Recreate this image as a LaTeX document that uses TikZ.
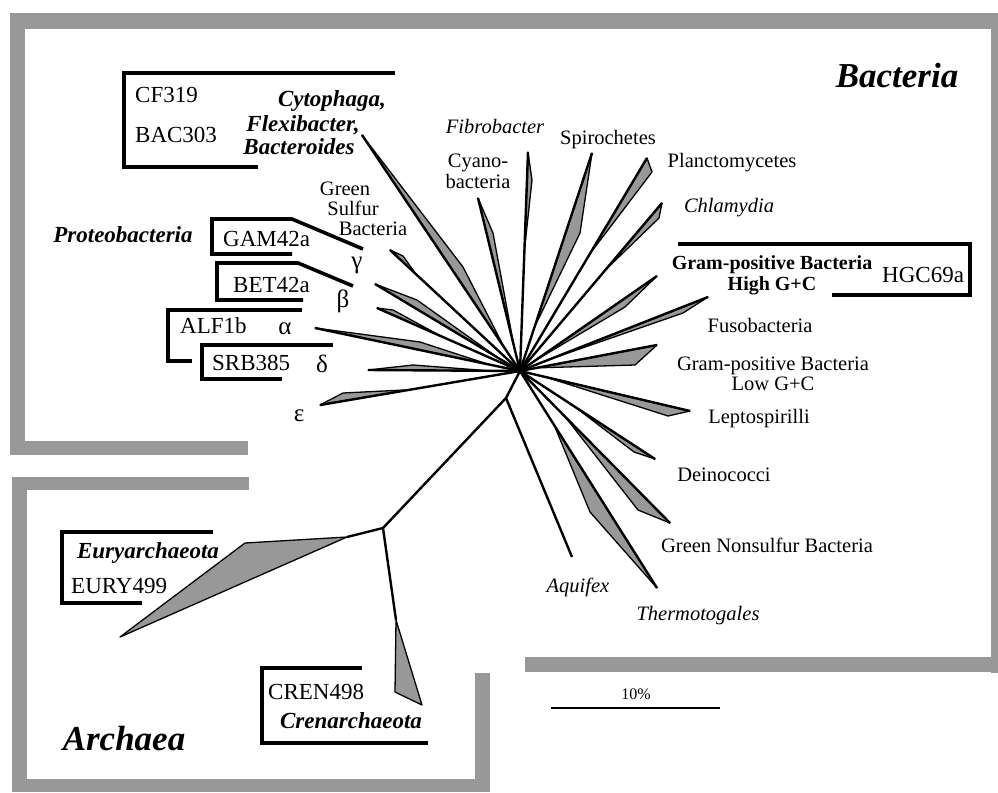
\documentclass[tikz,border=0pt]{standalone}
\usepackage{fontspec}
\setmainfont{Liberation Serif}
\usepackage{tikz}
\usetikzlibrary{calc}
\tikzstyle{tree} = [x = 1pt, y = -1pt]
\definecolor{stippleGray}{RGB}{152,152,152}
\tikzstyle{bandStyle} = [fill=stippleGray]
\tikzstyle{wedgeStyle} = [fill=stippleGray, draw=black, line width=1.3pt, line join=round]
\tikzstyle{branchLine} = [line width=2.4pt]
\tikzstyle{bracketLine} = [line width=3.6pt, line join=miter]
\tikzstyle{taxonText} = [anchor=base, inner sep=0pt, align=center, font=\fontsize{20.5}{21}\selectfont]
\tikzstyle{probeText} = [anchor=base west, inner sep=0pt, font=\fontsize{23}{24}\selectfont]
\tikzstyle{groupText} = [anchor=base, inner sep=0pt, font=\fontsize{23}{24}\selectfont\bfseries\itshape]
\tikzstyle{domainText} = [anchor=base, inner sep=0pt, font=\fontsize{35}{36}\selectfont\bfseries\itshape]
\tikzstyle{greekText} = [anchor=base, inner sep=0pt, font=\fontsize{25}{26}\selectfont]
\newcommand{\band}[4]{\fill [bandStyle] (#1,#2) rectangle (#3,#4);}
\newcommand{\plainBranch}[3]{\coordinate (#2) at #3; \draw [branchLine] (#1) -- (#2);}
\newcommand{\wedgeBranch}[5]{
  \coordinate (#2) at #3;
  \filldraw [wedgeStyle] ($(#1)!#5!(#2)$) -- #4 -- (#2) -- cycle;
  \draw [branchLine] (#1) -- (#2);
}
\begin{document}
\begin{tikzpicture}[tree]
        \useasboundingbox (0,0) rectangle (998,792);
        \band{10}{13}{998}{29}
        \band{10}{13}{25}{455}
        \band{10}{441}{248}{455}
        \band{991}{13}{998}{673}
        \band{525}{657}{998}{672}
        \band{12}{477}{249}{490}
        \band{12}{477}{27}{792}
        \band{12}{779}{490}{792}
        \band{475}{673}{490}{792}

        \coordinate (hub) at (520,371);
        \coordinate (archaeaJoin) at (506,398);
        \coordinate (archaeaNode) at (383,528);
        \draw [branchLine] (hub) -- (archaeaJoin) -- (archaeaNode);
        \wedgeBranch{hub}{epsilonTip}{(320,405)}{(343,393)}{0.55}
        \wedgeBranch{hub}{deltaTip}{(368,370)}{(413,365)}{0.2}
        \wedgeBranch{hub}{alphaTip}{(315,328)}{(420,342)}{0.15}
        \wedgeBranch{hub}{betaLowTip}{(377,308)}{(393,310)}{0.55}
        \wedgeBranch{hub}{betaTip}{(375,284)}{(417,300)}{0.15}
        \wedgeBranch{hub}{greenSulfurTip}{(390,250)}{(403,256)}{0.8}
        \wedgeBranch{hub}{cfbTip}{(362,135)}{(463,267)}{0.1}
        \wedgeBranch{hub}{cyanoTip}{(478,198)}{(493,233)}{0.15}
        \wedgeBranch{hub}{fibroTip}{(528,152)}{(532,180)}{0.55}
        \wedgeBranch{hub}{spiroTip}{(592,153)}{(580,233)}{0.2}
        \wedgeBranch{hub}{planctoTip}{(647,158)}{(652,172)}{0.55}
        \wedgeBranch{hub}{chlamTip}{(662,203)}{(659,218)}{0.6}
        \wedgeBranch{hub}{highGcTip}{(657,276)}{(625,307)}{0.1}
        \wedgeBranch{hub}{fusoTip}{(708,297)}{(683,313)}{0.15}
        \wedgeBranch{hub}{lowGcTip}{(657,345)}{(635,365)}{0.12}
        \wedgeBranch{hub}{leptoTip}{(690,411)}{(668,416)}{0.15}
        \wedgeBranch{hub}{deinoTip}{(655,459)}{(634,452)}{0.4}
        \wedgeBranch{hub}{nonsulfurTip}{(670,523)}{(638,510)}{0.3}
        \wedgeBranch{hub}{thermoTip}{(657,588)}{(590,512)}{0.25}
        \plainBranch{archaeaJoin}{aquifexTip}{(572,557)}

        \coordinate (euryJoin) at (347,537);
        \coordinate (euryTip) at (120,637);
        \draw [branchLine] (archaeaNode) -- (euryJoin);
        \filldraw [wedgeStyle] (euryJoin) -- (245,543) -- (euryTip) -- cycle;
        \coordinate (crenJoin) at (396,620);
        \coordinate (crenTip) at (422,705);
        \draw [branchLine] (archaeaNode) -- (crenJoin);
        \filldraw [wedgeStyle] (crenJoin) -- (crenTip) -- (395,692) -- cycle;

        \draw [bracketLine] (258,167) -- (124,167) -- (124,73) -- (395,73);
        \draw [bracketLine] (292,254) -- (212,254) -- (212,219) -- (292,219) -- (363,249);
        \draw [bracketLine] (303,300) -- (217,300) -- (217,263) -- (298,263) -- (353,286);
        \draw [bracketLine] (192,361) -- (168,361) -- (168,310) -- (302,310);
        \draw [bracketLine] (282,379) -- (202,379) -- (202,345) -- (333,345);
        \draw [bracketLine] (678,244) -- (970,244) -- (970,295) -- (832,295);
        \draw [bracketLine] (142,603) -- (62,603) -- (62,532) -- (213,532);
        \draw [bracketLine] (362,668) -- (262,668) -- (262,743) -- (428,743);

        \node [domainText] (bacteria) at (897,88) {Bacteria};
        \node [domainText] (archaea) at (124,750) {Archaea};

        \node [probeText] (cf319) at (135,102) {CF319};
        \node [probeText] (bac303) at (135,142) {BAC303};
        \node [groupText] (cytophaga) at (332,106) {Cytophaga,};
        \node [groupText] (flexibacter) at (303,131) {Flexibacter,};
        \node [groupText] (bacteroides) at (299,154) {Bacteroides};
        \node [groupText] (proteo) at (123,242) {Proteobacteria};
        \node [probeText] (gam42a) at (223,246) {GAM42a};
        \node [probeText] (bet42a) at (233,292) {BET42a};
        \node [probeText] (alf1b) at (180,333) {ALF1b};
        \node [probeText] (srb385) at (212,370) {SRB385};
        \node [greekText] (gamma) at (357,268) {γ};
        \node [greekText] (beta) at (343,307) {β};
        \node [greekText] (alpha) at (285,334) {α};
        \node [greekText] (delta) at (322,372) {δ};
        \node [greekText] (epsilon) at (299,421) {ε};
        \node [taxonText] (greenLine) at (345,195) {Green};
        \node [taxonText] (sulfurLine) at (353,215) {Sulfur};
        \node [taxonText] (bacteriaLine) at (373,235) {Bacteria};
        \node [taxonText] (fibro) at (495,133) {\itshape Fibrobacter};
        \node [taxonText] (cyano) at (478,188) {Cyano-\\bacteria};
        \node [taxonText] (spiro) at (608,144) {Spirochetes};
        \node [taxonText] (plancto) at (732,167) {Planctomycetes};
        \node [taxonText] (chlam) at (729,212) {\itshape Chlamydia};
        \node [taxonText, font=\fontsize{20}{21}\selectfont\bfseries] (highGc) at (772,290) {Gram-positive Bacteria\\High G+C};
        \node [probeText] (hgc69a) at (882,282) {HGC69a};
        \node [taxonText] (fuso) at (760,332) {Fusobacteria};
        \node [taxonText, font=\fontsize{20.5}{20}\selectfont] (lowGc) at (773,390) {Gram-positive Bacteria\\Low G+C};
        \node [taxonText] (lepto) at (759,423) {Leptospirilli};
        \node [taxonText] (deino) at (724,481) {Deinococci};
        \node [taxonText] (nonsulfur) at (767,552) {Green Nonsulfur Bacteria};
        \node [taxonText] (aquifex) at (578,592) {\itshape Aquifex};
        \node [taxonText] (thermo) at (698,620) {\itshape Thermotogales};

        \node [groupText] (eury) at (148,558) {Euryarchaeota};
        \node [probeText] (eury499) at (71,593) {EURY499};
        \node [probeText] (cren498) at (268,699) {CREN498};
        \node [groupText] (cren) at (351,728) {Crenarchaeota};

        \node [taxonText, font=\fontsize{16}{17}\selectfont] (scaleLabel) at (636,699) {10\%};
        \coordinate (scaleStart) at (551,708);
        \coordinate (scaleEnd) at (720,708);
        \draw [line width=1.2pt] (scaleStart) -- (scaleEnd);
      \end{tikzpicture}
\end{document}
